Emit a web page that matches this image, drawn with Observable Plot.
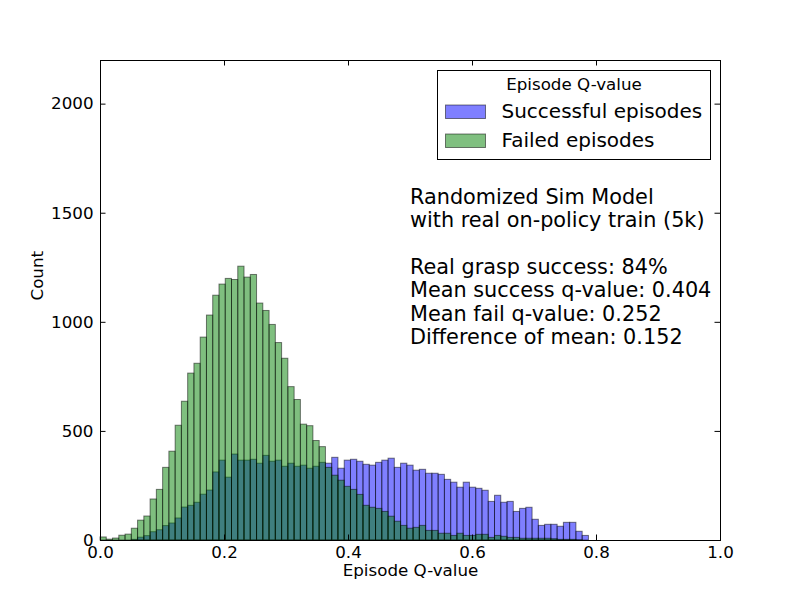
<!DOCTYPE html>
<html>
<head>
<meta charset="utf-8">
<script src="https://cdn.jsdelivr.net/npm/d3@7"></script>
<script src="https://cdn.jsdelivr.net/npm/@observablehq/plot@0.6"></script>
<style>
  html, body { margin: 0; padding: 0; background: white; }
  svg { display: block; }
</style>
</head>
<body>
<div id="chart"></div>
<script>
// Histogram bin width (Episode Q-value units)
const binWidth = 0.0101;

// Counts per bin, starting at 0.0
const successCounts = [
  0, 0, 0, 0, 0, 3, 13, 20, 38, 47,
  66, 78, 101, 151, 159, 173, 210, 229, 312, 366,
  288, 394, 366, 366, 370, 352, 388, 361, 366, 338,
  352, 338, 343, 329, 338, 356, 352, 379, 329, 366,
  370, 361, 347, 343, 356, 366, 375, 333, 352, 343,
  320, 324, 306, 306, 301, 278, 265, 242, 265, 242,
  237, 228, 177, 205, 173, 177, 131, 145, 150, 95,
  67, 72, 72, 63, 81, 81, 40, 21
];
const failCounts = [
  14, 4, 9, 22, 27, 54, 91, 110, 188, 232,
  333, 407, 526, 636, 765, 810, 930, 1031, 1122, 1173,
  1199, 1194, 1255, 1205, 1217, 1086, 1052, 988, 905, 833,
  703, 644, 531, 524, 456, 428, 333, 297, 274, 246,
  232, 209, 159, 150, 145, 131, 109, 86, 67, 54,
  58, 67, 44, 44, 31, 31, 21, 31, 21, 21,
  26, 26, 12, 21, 17, 12, 12, 8, 8, 8,
  8, 8, 6, 3, 3, 3, 1, 0
];

const xTicks = [0, 0.2, 0.4, 0.6, 0.8, 1.0];
const yTicks = [0, 500, 1000, 1500, 2000];

const seriesNames = ["Successful episodes", "Failed episodes"];
const legendTitle = "Episode Q-value";
const annotationLines = [
  "Randomized Sim Model",
  "with real on-policy train (5k)",
  "",
  "Real grasp success: 84%",
  "Mean success q-value: 0.404",
  "Mean fail q-value: 0.252",
  "Difference of mean: 0.152"
];

const toBins = counts => counts.map((c, i) => ({x1: i * binWidth, x2: (i + 1) * binWidth, count: c}));
const successBins = toBins(successCounts);
const failBins = toBins(failCounts);

const barStyle = {stroke: "black", strokeOpacity: 0.5, strokeWidth: 1, fillOpacity: 0.5};

const svg = Plot.plot({
  width: 800,
  height: 600,
  marginLeft: 100,
  marginRight: 80,
  marginTop: 60,
  marginBottom: 60,
  style: {fontFamily: "DejaVu Sans", fontSize: "16.7px", background: "white", color: "black"},
  x: {domain: [0, 1]},
  y: {domain: [0, 2200]},
  marks: [
    Plot.rectY(successBins, {x1: "x1", x2: "x2", y: "count", fill: "blue", ...barStyle}),
    Plot.rectY(failBins, {x1: "x1", x2: "x2", y: "count", fill: "green", ...barStyle}),
    Plot.frame({stroke: "black", strokeWidth: 1}),
    Plot.tickX(xTicks, {x: d => d, insetTop: 474.5, stroke: "black"}),
    Plot.tickX(xTicks, {x: d => d, insetBottom: 474.5, stroke: "black"}),
    Plot.tickY(yTicks, {y: d => d, insetRight: 614.5, stroke: "black"}),
    Plot.tickY(yTicks, {y: d => d, insetLeft: 614.5, stroke: "black"}),
    Plot.axisX({ticks: xTicks, tickSize: 0, tickPadding: 6, tickFormat: d3.format(".1f"), label: null, fontSize: 16.7}),
    Plot.axisY({ticks: yTicks, tickSize: 0, tickPadding: 7, tickFormat: d => String(d), label: null, fontSize: 16.7}),
    Plot.text(["Episode Q-value"], {text: d => d, frameAnchor: "bottom", dy: 35, fontSize: 16.7}),
    Plot.text(["Count"], {text: d => d, frameAnchor: "left", rotate: -90, dx: -63, fontSize: 16.7})
  ]
});

const root = d3.select(svg);

// Legend (inside the axes, upper right)
const lg = root.append("g").attr("font-family", "DejaVu Sans");
lg.append("rect").attr("x", 437.5).attr("y", 70.5).attr("width", 273).attr("height", 89)
  .attr("fill", "white").attr("stroke", "black").attr("stroke-width", 1);
lg.append("text").attr("x", 574).attr("y", 89.5).attr("text-anchor", "middle")
  .attr("font-size", "16.7px").attr("fill", "black").text(legendTitle);
const legendFills = [["blue", 0.5], ["green", 0.5]];
seriesNames.forEach((name, i) => {
  const yTop = 105 + i * 29;
  lg.append("rect").attr("x", 445.5).attr("y", yTop).attr("width", 40).attr("height", 13.5)
    .attr("fill", legendFills[i][0]).attr("fill-opacity", legendFills[i][1])
    .attr("stroke", "black").attr("stroke-opacity", 0.5);
  lg.append("text").attr("x", 501.5).attr("y", yTop + 12.5).attr("text-anchor", "start")
    .attr("font-size", "20px").attr("fill", "black").text(name);
});

// Annotation text block
const ann = root.append("text").attr("font-family", "DejaVu Sans").attr("font-size", "20.8px")
  .attr("text-anchor", "start").attr("fill", "black");
annotationLines.forEach((line, i) => {
  ann.append("tspan").attr("x", 410).attr("y", 204 + i * 23.33).text(line === "" ? "\u00a0" : line);
});

document.getElementById("chart").appendChild(svg);
</script>
</body>
</html>
